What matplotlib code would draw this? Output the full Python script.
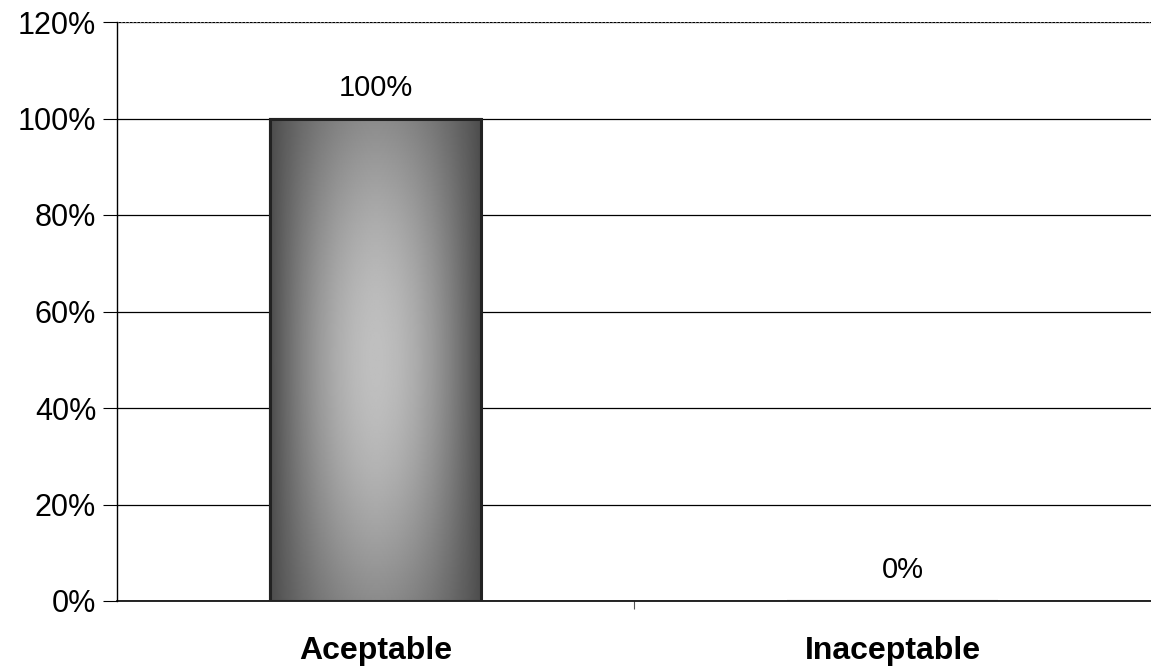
import numpy as np
import matplotlib.pyplot as plt
from matplotlib.ticker import PercentFormatter

categories = ['Aceptable', 'Inaceptable']
values = [100, 0]
value_labels = ['100%', '0%']
yticks = [0, 20, 40, 60, 80, 100, 120]

plt.rcParams['font.family'] = ['Liberation Sans', 'DejaVu Sans']

fig = plt.figure(figsize=(11.51, 6.69), dpi=100)
ax = fig.add_axes([117 / 1151, 68 / 669, 1034 / 1151, 579 / 669])

x = np.arange(len(categories))
bars = ax.bar(x, values, width=0.41, color='#8a8a8a', edgecolor='#222222',
              linewidth=1.5, zorder=3)

# gradient fill inside the bar (dark edges, light centre, darker bottom)
for b in bars:
    if b.get_height() <= 0:
        continue
    gx = np.linspace(-1, 1, 200)
    gy = np.linspace(0, 1, 200)
    GX, GY = np.meshgrid(gx, gy)
    shade = 0.3 + 0.45 * (1 - np.abs(GX) ** 1.8) * (0.55 + 0.45 * np.sin(np.pi * GY))
    im = ax.imshow(shade, cmap='gray', vmin=0, vmax=1, aspect='auto',
                   extent=[b.get_x(), b.get_x() + b.get_width(), 0, b.get_height()],
                   origin='lower', zorder=3.5)
    im.set_clip_path(b)
    ax.add_patch(plt.Rectangle((b.get_x(), 0), b.get_width(), b.get_height(),
                               fill=False, edgecolor='#222222', linewidth=2.2, zorder=4))

ax.set_xlim(-0.5, 1.5)
ax.set_ylim(0, 120)
ax.set_yticks(yticks)
ax.yaxis.set_major_formatter(PercentFormatter(decimals=0))
ax.set_xticks([0.5])
ax.set_xticklabels([''])
ax.tick_params(axis='x', length=6, width=0.8, color='#555555')
ax.tick_params(axis='y', labelsize=22, length=10, width=0.8, pad=5)

for i, c in enumerate(categories):
    ax.text(x[i], -10.3, c, ha='center', va='center', fontsize=23,
            fontweight='bold', clip_on=False)

for i, lbl in enumerate(value_labels):
    ax.text(x[i] + (0.02 if values[i] == 0 else 0), values[i] + 3.5, lbl,
            ha='center', va='bottom', fontsize=21, zorder=5)

ax.grid(axis='y', color='black', linewidth=0.9, zorder=1)
ax.spines['top'].set_visible(False)
ax.spines['right'].set_visible(False)
ax.spines['left'].set_linewidth(1.0)
ax.spines['bottom'].set_linewidth(1.2)
ax.axhline(120, color='#888888', linewidth=0.9, linestyle=(0, (1, 2)), zorder=2)
ax.set_axisbelow(True)

fig.savefig('out.png', dpi=100)
